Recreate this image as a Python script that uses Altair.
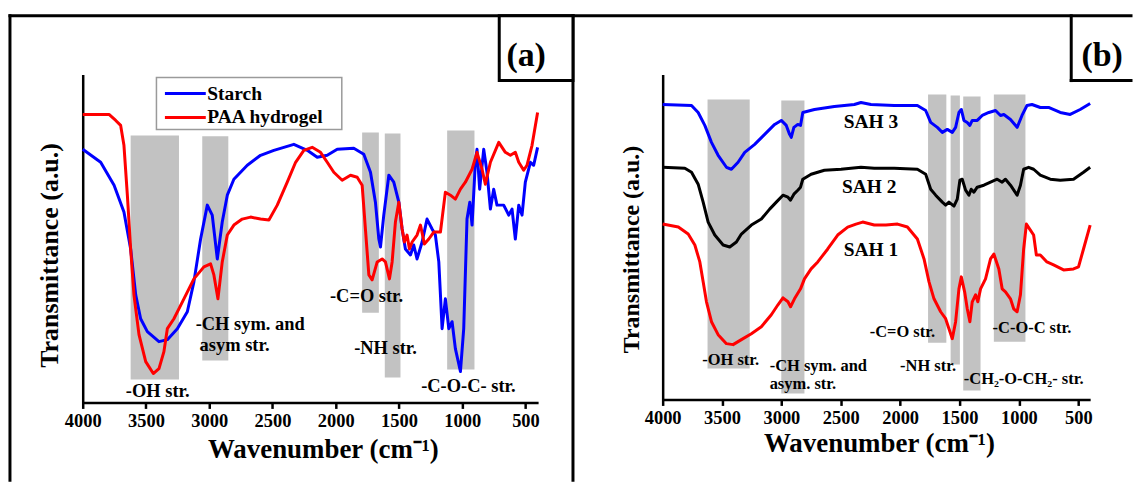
import altair as alt
import pandas as pd

FONT = "Liberation Serif"

# ---------------- Panel (a) : Starch and PAA hydrogel ----------------
starch_wn = [4000, 3858, 3752, 3674, 3621, 3581, 3542, 3489, 3397, 3331, 3252, 3173, 3121, 3068,
             3015, 2976, 2936, 2897, 2857, 2805, 2699, 2594, 2489, 2331, 2225, 2146, 2067, 1988,
             1857, 1778, 1725, 1686, 1659, 1646, 1620, 1580, 1541, 1501, 1475, 1449, 1409, 1383,
             1357, 1317, 1278, 1238, 1212, 1185, 1172, 1159, 1133, 1106, 1080, 1054, 1014, 988,
             962, 940, 922, 896, 883, 862, 830, 804, 777, 751, 725, 672, 632, 606, 580, 553, 527,
             501, 461, 435, 404]
starch_t = [254, 241, 218, 191, 154, 108, 84, 71, 61, 63, 74, 91, 121, 164,
            198, 188, 144, 181, 208, 224, 238, 248, 253, 259, 253, 246, 248, 254,
            255, 249, 231, 201, 164, 156, 188, 228, 221, 201, 174, 154, 148, 158,
            144, 161, 184, 174, 168, 141, 108, 74, 104, 74, 81, 54, 31, 74,
            184, 201, 178, 241, 254, 214, 254, 231, 194, 214, 198, 198, 188, 194, 164, 198, 188,
            221, 241, 238, 256]

paa_wn = [4000, 3792, 3739, 3700, 3674, 3647, 3621, 3595, 3555, 3502, 3442, 3397, 3358, 3331,
          3279, 3200, 3121, 3042, 2989, 2963, 2931, 2897, 2857, 2805, 2739, 2673, 2594, 2528,
          2462, 2383, 2317, 2252, 2186, 2120, 2067, 2015, 1949, 1883, 1830, 1791, 1765, 1738,
          1712, 1672, 1633, 1607, 1575, 1554, 1528, 1501, 1475, 1457, 1436, 1417, 1396, 1357,
          1330, 1299, 1264, 1225, 1172, 1133, 1093, 1054, 1014, 975, 922, 883, 843, 817, 777,
          711, 659, 619, 580, 553, 514, 488, 448, 404]
paa_t = [289, 289, 283, 278, 258, 208, 154, 108, 68, 41, 29, 34, 51, 74,
         84, 104, 124, 136, 139, 128, 104, 141, 168, 178, 184, 186, 184, 183,
         198, 221, 241, 253, 256, 251, 241, 231, 223, 228, 226, 218, 174, 128,
         123, 141, 144, 141, 124, 141, 181, 201, 174, 161, 168, 154, 161, 168,
         178, 159, 164, 171, 171, 211, 208, 204, 214, 221, 234, 251, 234, 219, 241,
         261, 251, 248, 251, 241, 233, 238, 258, 291]

# assignment bands (a)
band_a_from = [3621, 3055, 1791, 1612, 1119]
band_a_to = [3239, 2849, 1659, 1488, 903]
band_a_top = [268, 267, 271, 270, 273]
band_a_bottom = [23, 42, 90, 25, 33]

# annotations (a)
ann_a_text = ["-OH str.", "-CH sym. and", "asym str.", "-C=O str.", "-NH str.", "-C-O-C- str."]
ann_a_wn = [3407, 3107, 3076, 1756, 1606, 951]
ann_a_t = [11, 79, 58, 107, 55, 16]
ann_a_align = ["center", "left", "left", "center", "center", "center"]

legend_names = ["Starch", "PAA hydrogel"]

# ---------------- Panel (b) : SAH 1-3 ----------------
sah3_wn = [4000, 3757, 3701, 3645, 3589, 3533, 3463, 3421, 3365, 3309, 3225, 3141, 3057, 3001,
           2959, 2931, 2917, 2895, 2862, 2839, 2820, 2722, 2554, 2386, 2330, 2246, 2050, 1855,
           1785, 1743, 1687, 1645, 1603, 1561, 1533, 1505, 1485, 1463, 1435, 1413, 1393, 1351,
           1309, 1253, 1197, 1155, 1127, 1071, 1015, 974, 932, 890, 820, 750, 652, 568, 484, 400]
sah3_t = [296, 295, 288, 275, 258, 245, 233, 231, 238, 248, 256, 266, 276, 280,
          275, 266, 263, 273, 276, 275, 288, 291, 294, 296, 298, 296, 295, 295,
          290, 278, 273, 268, 271, 268, 273, 288, 291, 280, 278, 275, 280, 280,
          285, 288, 290, 285, 286, 281, 273, 285, 295, 296, 293, 293, 288, 286, 291, 297]

sah2_wn = [4000, 3813, 3757, 3701, 3659, 3617, 3561, 3491, 3435, 3379, 3337, 3253, 3169, 3099,
           3043, 2987, 2945, 2923, 2895, 2862, 2839, 2820, 2750, 2638, 2498, 2330, 2218, 2050,
           1855, 1785, 1743, 1701, 1645, 1617, 1589, 1547, 1519, 1497, 1477, 1449, 1421, 1402,
           1379, 1351, 1295, 1239, 1183, 1141, 1113, 1071, 1015, 987, 960, 918, 876, 820, 736,
           652, 540, 456, 400]
sah2_t = [233, 232, 228, 216, 198, 178, 165, 155, 153, 158, 166, 175, 181, 191,
          198, 205, 203, 200, 206, 210, 213, 221, 226, 230, 231, 233, 232, 232,
          231, 226, 211, 205, 198, 195, 198, 194, 201, 220, 221, 210, 205, 211,
          208, 213, 215, 218, 221, 218, 221, 215, 205, 215, 231, 233, 231, 225, 221,
          220, 221, 228, 233]

sah1_wn = [4000, 3868, 3785, 3729, 3687, 3659, 3631, 3589, 3533, 3463, 3407, 3337, 3253, 3169,
           3085, 3029, 2987, 2945, 2923, 2890, 2839, 2806, 2750, 2694, 2610, 2526, 2442, 2372,
           2316, 2218, 2120, 2022, 1939, 1855, 1799, 1757, 1715, 1659, 1617, 1589, 1561, 1533,
           1505, 1485, 1457, 1435, 1413, 1393, 1365, 1346, 1323, 1281, 1239, 1211, 1169, 1141,
           1113, 1071, 1044, 1015, 987, 960, 937, 909, 876, 853, 820, 764, 708, 624, 540, 498,
           456, 400]
sah1_t = [176, 173, 166, 155, 138, 118, 98, 78, 65, 56, 55, 60, 66, 73,
          85, 95, 102, 98, 93, 101, 111, 121, 131, 138, 151, 165, 173, 176,
          178, 175, 175, 176, 173, 161, 141, 118, 101, 88, 81, 71, 61, 78,
          111, 123, 108, 91, 78, 98, 105, 98, 111, 121, 141, 146, 131, 111,
          108, 101, 91, 88, 105, 151, 176, 171, 165, 145, 145, 138, 135, 130, 131, 133,
          151, 175]

band_b_from = [3622, 3001, 1765, 1575, 1469, 1211]
band_b_to = [3267, 2806, 1611, 1497, 1323, 945]
band_b_top = [301, 300, 306, 305, 304, 306]
band_b_bottom = [31, 6, 57, 35, 9, 58]

ann_b_text = ["-OH str.", "-CH sym. and", "asym. str.", "-C=O str.", "-NH str.",
              "-CH\u2082-O-CH\u2082- str.", "-C-O-C str."]
ann_b_wn = [3427, 3099, 3099, 1981, 1765, 960, 890]
ann_b_t = [40, 34, 15, 68, 34, 20, 72]
ann_b_align = ["center", "left", "left", "center", "center", "center", "center"]

sample_text = ["SAH 3", "SAH 2", "SAH 1"]
sample_wn = [2246, 2260, 2246]
sample_t = [278, 213, 150]

tick_values = [4000 - 250 * i for i in range(15)]

one = pd.DataFrame({"k": [0]})


def series_df(name, wn, t):
    return pd.DataFrame({"wn": wn, "t": t, "series": name})


def seg(x1, y1, x2, y2, w=3, color="black"):
    return alt.Chart(one).mark_rule(color=color, strokeWidth=w, strokeCap="square").encode(
        x=alt.value(x1), y=alt.value(y1), x2=alt.value(x2), y2=alt.value(y2))


def label(txt, x, y, size, align="left"):
    return alt.Chart(one).mark_text(text=txt, font=FONT, fontWeight="bold", fontSize=size,
                                    align=align, baseline="middle", color="black").encode(
        x=alt.value(x), y=alt.value(y))


def panel(ymax, lines, color_scale, bands, ann, ytitle_x, ytitle_y, ytitle_size,
          xtitle_x, xtitle_y):
    xs = alt.Scale(domain=[400, 4000], reverse=True, nice=False, zero=False)
    ys = alt.Scale(domain=[0, ymax], nice=False, zero=False)
    xaxis = alt.Axis(values=tick_values, format="d",
                     labelExpr="datum.value % 500 == 0 ? datum.label : ''",
                     title="Wavenumber (cm\u207b\u00b9)", titleFont=FONT, titleFontSize=27,
                     titleFontWeight="bold", titleX=xtitle_x, titleY=xtitle_y,
                     titleAlign="center", titleBaseline="middle", titleColor="black",
                     labelFont=FONT, labelFontSize=18.5, labelFontWeight="bold", labelColor="black",
                     labelPadding=3, tickSize=6, tickWidth=2.5, tickColor="black",
                     domainColor="black", domainWidth=2.5, grid=False, labelFlush=False)
    yaxis = alt.Axis(title="Transmittance (a.u.)", titleFont=FONT, titleFontSize=ytitle_size,
                     titleFontWeight="bold", titleX=ytitle_x, titleY=ytitle_y,
                     titleAlign="center", titleBaseline="middle", titleColor="black",
                     labels=False, ticks=False, grid=False, domainColor="black", domainWidth=2.5)

    band_df = pd.DataFrame({"a": bands[0], "b": bands[1], "top": bands[2], "bot": bands[3]})
    layers = [alt.Chart(band_df).mark_rect(color="#c2c2c2").encode(
        x=alt.X("a:Q", scale=xs, axis=xaxis), x2="b:Q",
        y=alt.Y("top:Q", scale=ys, axis=yaxis), y2="bot:Q")]

    for df in lines:
        layers.append(alt.Chart(df).mark_line(strokeWidth=3, strokeJoin="round").encode(
            x=alt.X("wn:Q", scale=xs, axis=xaxis),
            y=alt.Y("t:Q", scale=ys, axis=yaxis),
            color=alt.Color("series:N", scale=color_scale, legend=None)))

    for txt, wn, t, align, size in ann:
        adf = pd.DataFrame({"wn": [wn], "t": [t], "txt": [txt]})
        layers.append(alt.Chart(adf).mark_text(
            font=FONT, fontWeight="bold", fontSize=size, align=align, baseline="middle",
            color="black").encode(x=alt.X("wn:Q", scale=xs), y=alt.Y("t:Q", scale=ys),
                                  text="txt:N"))
    return layers


# ---------- panel a ----------
lines_a = [series_df("Starch", starch_wn, starch_t), series_df("PAA hydrogel", paa_wn, paa_t)]
scale_a = alt.Scale(domain=legend_names, range=["#0000ff", "#ff0000"])
ann_a = [(ann_a_text[i], ann_a_wn[i], ann_a_t[i], ann_a_align[i], 18.5) for i in range(len(ann_a_text))]
layers_a = panel(329, lines_a, scale_a, (band_a_from, band_a_to, band_a_top, band_a_bottom),
                 ann_a, -33, 181, 26, 241, 47)

# legend box of panel a
leg_box = alt.Chart(one).mark_rect(fill="white", stroke="#9a9a9a", strokeWidth=1.5).encode(
    x=alt.value(74), x2=alt.value(260), y=alt.value(3), y2=alt.value(55))
leg_lines = [seg(84, 19, 122, 19, 3, "#0000ff"), seg(84, 43, 122, 43, 3, "#ff0000")]
leg_text = [label(legend_names[0], 125, 19, 19.5), label(legend_names[1], 125, 43, 19.5)]

box_a = alt.Chart(one).mark_rect(fill="white", stroke="black", strokeWidth=3).encode(
    x=alt.value(418), x2=alt.value(492), y=alt.value(-59), y2=alt.value(6))
frame_a = [seg(-73, -59, -73, 407), seg(-73, -59, 492, -59), seg(492, -59, 492, 407)]
chart_a = alt.layer(*layers_a, leg_box, *leg_lines, *leg_text, *frame_a, box_a,
                    label("(a)", 445, -19, 34, "center")).properties(width=457, height=329)

# ---------- panel b ----------
lines_b = [series_df("SAH 3", sah3_wn, sah3_t), series_df("SAH 2", sah2_wn, sah2_t),
           series_df("SAH 1", sah1_wn, sah1_t)]
scale_b = alt.Scale(domain=sample_text, range=["#0000ff", "#000000", "#ff0000"])
ann_b = [(ann_b_text[i], ann_b_wn[i], ann_b_t[i], ann_b_align[i], 16.5) for i in range(len(ann_b_text))]
ann_b += [(sample_text[i], sample_wn[i], sample_t[i], "center", 19.5) for i in range(3)]
layers_b = panel(326, lines_b, scale_b, (band_b_from, band_b_to, band_b_top, band_b_bottom),
                 ann_b, -31, 175, 24, 217, 44)
frame_b = [seg(-88, -59, 470, -59), seg(410, -59, 410, 6), seg(410, 6, 470, 6)]
chart_b = alt.layer(*layers_b, *frame_b,
                    label("(b)", 441, -19, 34, "center")).properties(width=429, height=326)

chart = alt.hconcat(chart_a, chart_b, spacing=-4).resolve_scale(color="independent").properties(
    padding={"left": 7, "top": 12, "right": 0, "bottom": 0},
    background="white"
).configure_view(stroke="transparent")

chart.save("out.html", embed_options={"renderer": "svg", "actions": False})
